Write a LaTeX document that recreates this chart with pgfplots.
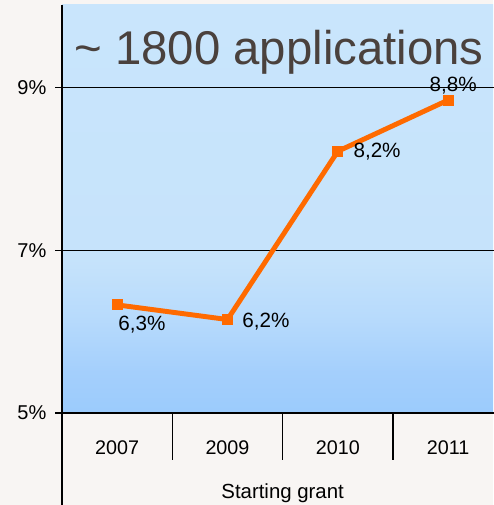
\documentclass[border=0pt]{standalone}
\usepackage{pgfplots}
\pgfplotsset{compat=1.18}
\usepackage{fontspec}
\setmainfont{Liberation Sans}
\definecolor{pagebg}{HTML}{F8F5F3}
\definecolor{btop}{HTML}{C9E5FC}
\definecolor{bmid}{HTML}{C6E3FB}
\definecolor{bml}{HTML}{B8DBFC}
\definecolor{blow}{HTML}{A4CFFC}
\definecolor{bbot}{HTML}{9BCBFC}
\definecolor{lineor}{HTML}{FF6A00}
\definecolor{titlegray}{HTML}{4A413D}
\pgfdeclareverticalshading{bgsh}{100bp}{color(0bp)=(bbot); color(25bp)=(bbot); color(30bp)=(blow); color(37bp)=(bml); color(44bp)=(bmid); color(75bp)=(btop); color(100bp)=(btop)}
\begin{document}
\begin{tikzpicture}
\fill[pagebg] (0,0) rectangle (369.75pt,378.75pt);
\useasboundingbox (0,0) rectangle (369.75pt,378.75pt);
\begin{axis}[
  at={(46.5pt,69pt)}, anchor=south west,
  scale only axis, width=323.25pt, height=306pt,
  xmin=-0.5, xmax=3.407, ymin=5, ymax=10.02,
  clip=false,
  axis line style={draw=none},
  axis background/.style={shading=bgsh},
  xtick=\empty,
  ytick={5,7,9},
  yticklabels={5\%,7\%,9\%},
  ymajorgrids,
  grid style={black, line width=0.9pt},
  tick align=outside,
  major tick length=5.25pt,
  ytick style={black, line width=0.9pt},
  yticklabel style={font=\fontsize{15pt}{18pt}\selectfont, anchor=east, xshift=-3pt},
  /pgf/number format/assume math mode=true,
]
\addplot[lineor, line width=3.7pt, mark=square*, mark size=3.7pt, mark options={solid, fill=lineor, line width=0pt}]
  coordinates {(0,6.33) (1,6.15) (2,8.22) (3,8.85)};
\draw[black, line width=1.2pt] (rel axis cs:0,1) -- ([yshift=-70pt]rel axis cs:0,0);
\draw[black, line width=1.1pt] (axis cs:0.5,5) -- ([yshift=-35.25pt]axis cs:0.5,5);
\draw[black, line width=1.1pt] (axis cs:1.5,5) -- ([yshift=-35.25pt]axis cs:1.5,5);
\draw[black, line width=1.1pt] (axis cs:2.5,5) -- ([yshift=-35.25pt]axis cs:2.5,5);
\node[font=\fontsize{14.8pt}{17pt}\selectfont, anchor=center] at ([yshift=-26.25pt]axis cs:0,5) {2007};
\node[font=\fontsize{14.8pt}{17pt}\selectfont, anchor=center] at ([yshift=-26.25pt]axis cs:1,5) {2009};
\node[font=\fontsize{14.8pt}{17pt}\selectfont, anchor=center] at ([yshift=-26.25pt]axis cs:2,5) {2010};
\node[font=\fontsize{14.8pt}{17pt}\selectfont, anchor=center] at ([yshift=-26.25pt]axis cs:3,5) {2011};
\node[font=\fontsize{15.3pt}{18pt}\selectfont, anchor=center] at ([yshift=-60pt]axis cs:1.5,5) {Starting grant};
\node[font=\fontsize{35.5pt}{40pt}\selectfont, text=titlegray, anchor=base] at (axis cs:1.467,9.283) {\char`\~{} 1800 applications};
\node[font=\fontsize{15.5pt}{18pt}\selectfont, anchor=center, inner sep=0pt] at (axis cs:0.225,6.083) {6,3\%};
\node[font=\fontsize{15.5pt}{18pt}\selectfont, anchor=center, inner sep=0pt] at (axis cs:1.349,6.12) {6,2\%};
\node[font=\fontsize{15.5pt}{18pt}\selectfont, anchor=center, inner sep=0pt] at (axis cs:2.356,8.21) {8,2\%};
\node[font=\fontsize{15.5pt}{18pt}\selectfont, anchor=center, inner sep=0pt] at (axis cs:3.045,9.025) {8,8\%};
\end{axis}
\end{tikzpicture}
\end{document}
